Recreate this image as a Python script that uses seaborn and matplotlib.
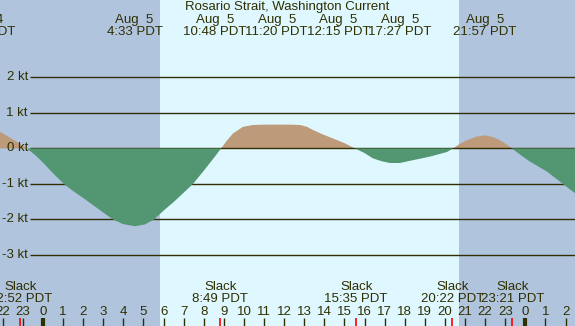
import numpy as np
import matplotlib
matplotlib.use("Agg")
import matplotlib.pyplot as plt
import seaborn as sns

# current speed (kt), hours from midnight Aug 5 (PDT)
hours = [-2.14, -1.49, -0.80, -0.40, 0.00, 0.50, 1.04, 1.50, 1.99, 2.50,
         2.99, 3.48, 3.98, 4.58, 5.07, 5.52, 6.02, 6.52, 7.01, 7.46,
         8.01, 8.51, 8.86, 9.15, 9.45, 9.95, 10.45, 11.00, 11.60, 12.30,
         12.79, 13.13, 13.43, 13.90, 14.43, 15.00, 15.52, 16.00, 16.42, 16.85,
         17.26, 17.76, 18.41, 19.25, 20.10, 20.40, 20.75, 21.09, 21.55, 21.99,
         22.40, 22.74, 23.05, 23.33, 23.80, 24.23, 25.07, 25.87, 26.47]
speed = [0.47, 0.25, 0.00, -0.18, -0.40, -0.70, -1.00, -1.20, -1.39, -1.60,
         -1.80, -2.00, -2.13, -2.19, -2.14, -2.00, -1.74, -1.50, -1.24, -1.00,
         -0.62, -0.26, 0.00, 0.22, 0.42, 0.61, 0.66, 0.67, 0.67, 0.67,
         0.66, 0.61, 0.52, 0.40, 0.28, 0.15, 0.00, -0.13, -0.28, -0.36,
         -0.41, -0.41, -0.33, -0.23, -0.10, 0.00, 0.13, 0.23, 0.33, 0.37,
         0.32, 0.23, 0.12, 0.00, -0.20, -0.37, -0.65, -1.00, -1.26]

# max current events (top labels)
event_dates = ["Aug  4", "Aug  5", "Aug  5", "Aug  5", "Aug  5", "Aug  5", "Aug  5"]
event_times = ["21:03 PDT", "4:33 PDT", "10:48 PDT", "11:20 PDT", "12:15 PDT", "17:27 PDT", "21:57 PDT"]
event_hours = [-2.95, 4.55, 10.80, 11.33, 12.25, 17.45, 21.95]
label_shift = [0, 0, -2.25, 0.3, 2.45, 0.3, 0.05]  # labels pushed apart where crowded

# slack water (bottom labels)
slack_times = ["22:52 PDT", "8:49 PDT", "15:35 PDT", "20:22 PDT", "23:21 PDT"]
slack_hours = [-1.13, 8.82, 15.58, 20.37, 23.35]

sunrise, sunset = 5.82, 20.70
kt_levels = [2, 1, 0, -1, -2, -3]
hour_ticks = list(range(-2, 27))

night = "#b0c4de"
day = "#dff7fe"
flood = "#bd9b7a"
ebb = "#529672"
ink = "#2f2f00"

sns.set_style("white")
plt.rcParams["font.family"] = ["Liberation Sans", "DejaVu Sans"]
fs = 9.5

W, H = 575, 326
fig = plt.figure(figsize=(W / 100, H / 100), dpi=100)
ax = fig.add_axes([0, 0, 1, 1])
ax.set_facecolor(night)
x0, x1 = -2.14, 26.47
ax.set_xlim(x0, x1)
ax.set_ylim(-5.0, 4.18)
ax.axvspan(sunrise, sunset, color=day, lw=0, zorder=0)

t = np.array(hours)
v = np.array(speed)
ax.fill_between(t, 0, v, where=v >= 0, interpolate=True, color=flood, lw=0, zorder=1)
ax.hlines(kt_levels, -0.65, x1, color=ink, lw=1.0, zorder=2)
ax.fill_between(t, 0, v, where=v <= 0, interpolate=True, color=ebb, lw=0, zorder=3)
sns.lineplot(x=t, y=v, ax=ax, lw=0)

for k in kt_levels:
    ax.text(-0.75, k, f"{k} kt", ha="right", va="center", fontsize=fs, color=ink, zorder=4)

def yf(px):
    return 1 - px / H

xt = ax.get_xaxis_transform()
ax.text(0.5, yf(7), "Rosario Strait, Washington Current", transform=ax.transAxes,
        ha="center", va="center", fontsize=fs, color=ink)
for d, tm, h, s in zip(event_dates, event_times, event_hours, label_shift):
    ax.text(h + s, yf(20), d, transform=xt, ha="center", va="center", fontsize=fs, color=ink)
    ax.text(h + s, yf(32), tm, transform=xt, ha="center", va="center", fontsize=fs, color=ink)

for tm, h in zip(slack_times, slack_hours):
    ax.text(h, yf(287), "Slack", transform=xt, ha="center", va="center", fontsize=fs, color=ink)
    ax.text(h, yf(299), tm, transform=xt, ha="center", va="center", fontsize=fs, color=ink)

for h in hour_ticks:
    ax.text(h, yf(312), str(h % 24), transform=xt, ha="center", va="center", fontsize=fs, color=ink)
    ax.vlines(h, 0, 8 / H, transform=xt, color=ink, lw=3.0 if h % 24 == 0 else 1.0)
ax.vlines(slack_hours, 0, 8 / H, transform=xt, color="red", lw=1.2)

ax.set_xticks([])
ax.set_yticks([])
for sp in ax.spines.values():
    sp.set_visible(False)

fig.savefig("out.png", dpi=100)
